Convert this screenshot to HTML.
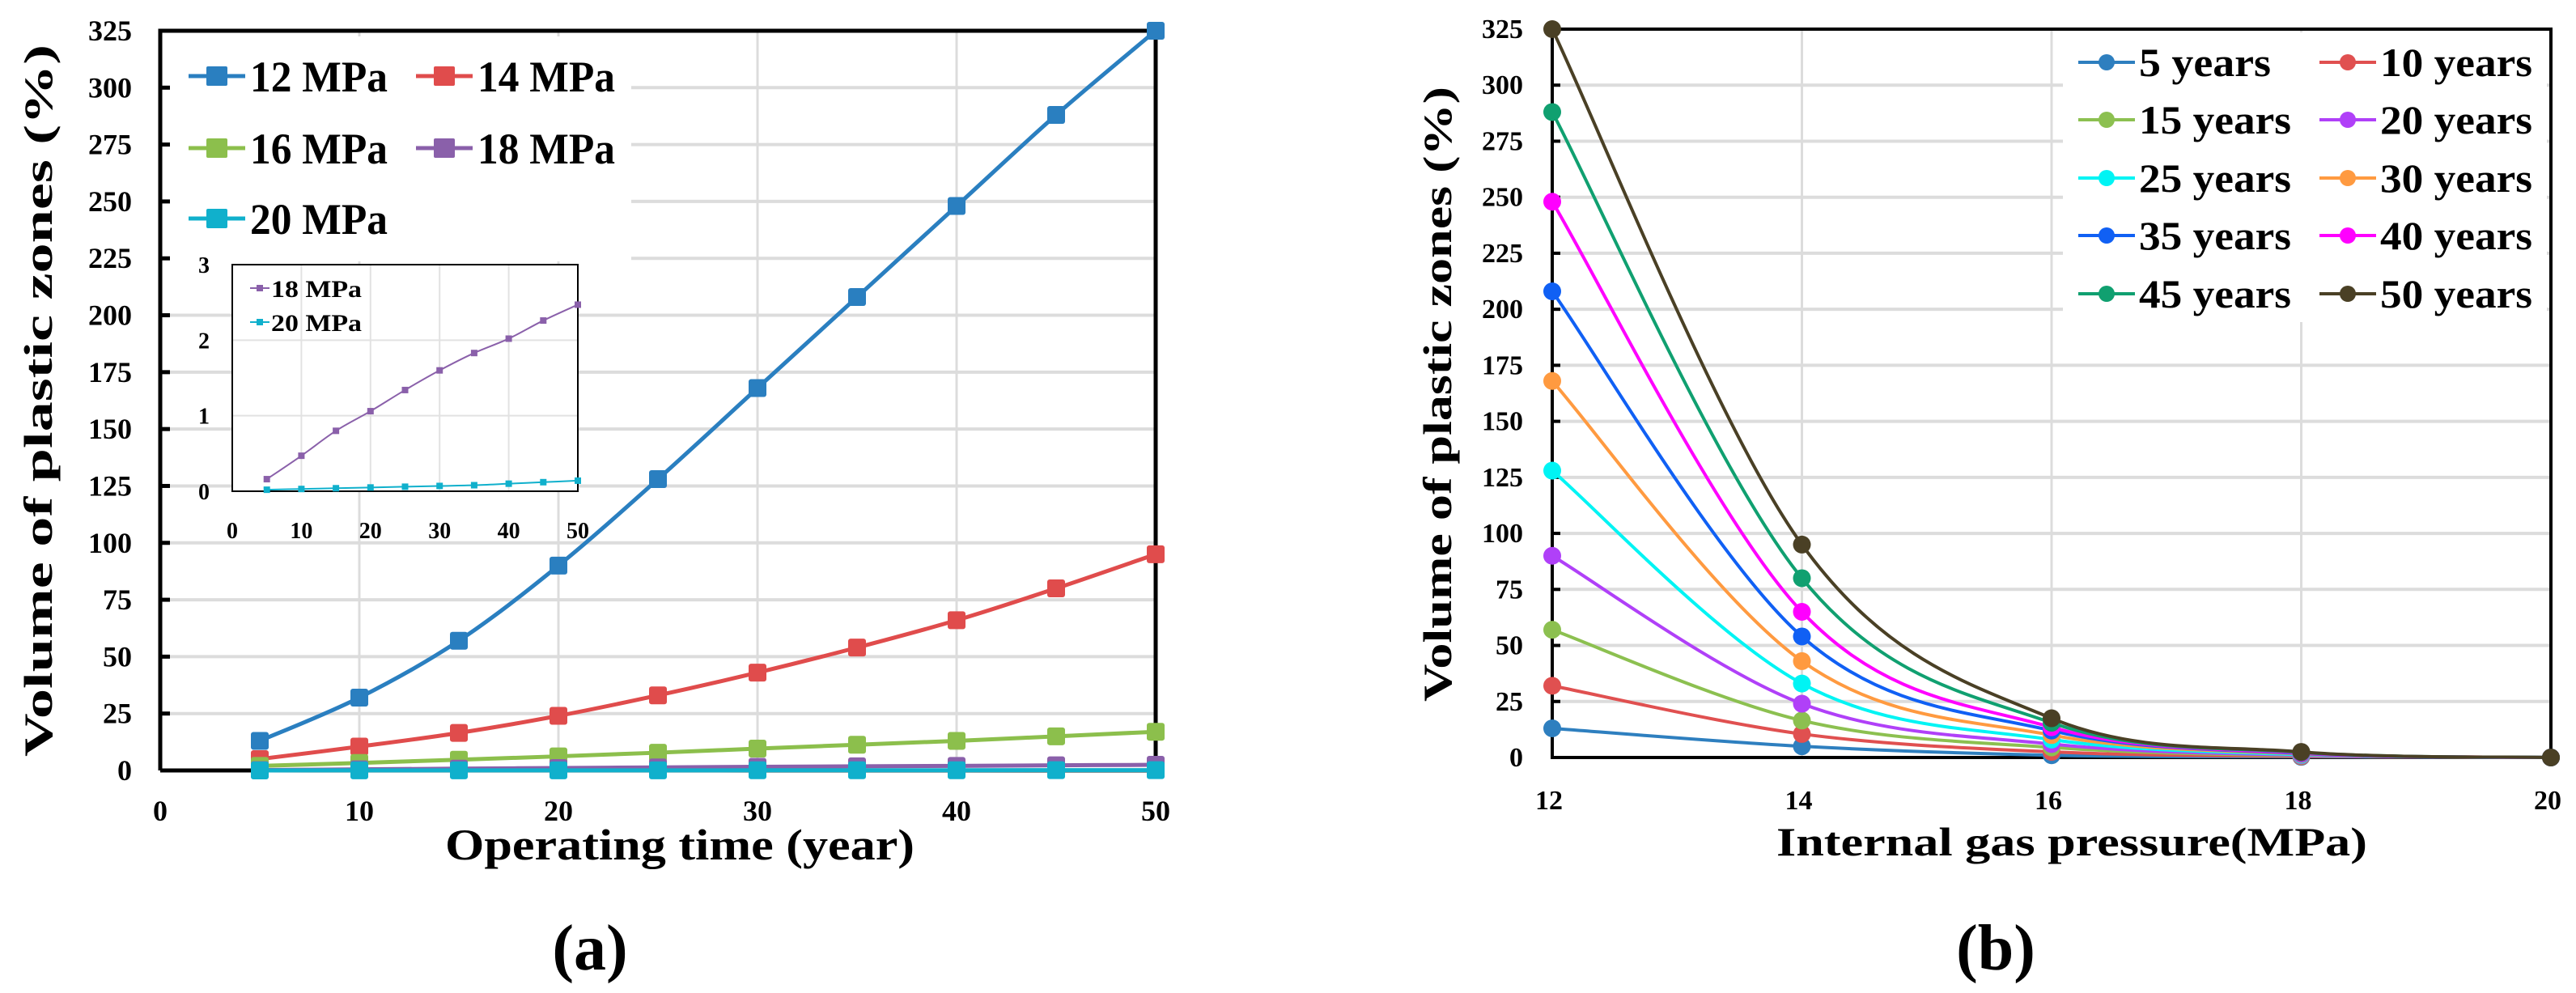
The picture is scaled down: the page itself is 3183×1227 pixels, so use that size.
<!DOCTYPE html>
<html><head><meta charset="utf-8"><style>
html,body{margin:0;padding:0;background:#fff;}
svg{display:block;font-family:"Liberation Serif",serif;font-weight:bold;}
</style></head><body>
<svg id="fig" width="3183" height="1227" viewBox="0 0 3183 1227" xmlns="http://www.w3.org/2000/svg">
<g id="chartA"></g>
<g id="chartB"></g>
</svg>
<script>
// ---------- Chart (a) data ----------
const aYears = [5,10,15,20,25,30,35,40,45,50];
const aNames = ["12 MPa","14 MPa","16 MPa","18 MPa","20 MPa"];
const aColors = ["#2a7fc0","#e04c4c","#8cbf4c","#8a60aa","#10b0cc"];
const a12 = [13,32,57,90,128,168,208,248,288,325];
const a14 = [5,10.5,16.5,24,33,43,54,66,80,95];
const a16 = [2,3.3,4.7,6.2,7.8,9.6,11.3,13,15,17];
const a18 = [0.16,0.47,0.8,1.06,1.34,1.6,1.83,2.02,2.26,2.47];
const a20 = [0.02,0.03,0.04,0.05,0.06,0.07,0.08,0.1,0.12,0.14];
const aYTicks = [0,25,50,75,100,125,150,175,200,225,250,275,300,325];
const aXTicks = [0,10,20,30,40,50];
const insetYTicks = [0,1,2,3];
// ---------- Chart (b) data ----------
const bPressures = [12,14,16,18,20];
const bNames = ["5 years","10 years","15 years","20 years","25 years","30 years","35 years","40 years","45 years","50 years"];
const bColors = ["#2e7fbf","#e05050","#8cc050","#b040f8","#00f4f4","#ff9a40","#1060f4","#ff00ff","#10a070","#4a4025"];
const b5 = [13,5,1,0.3,0];
const b10 = [32,10.5,2.5,0.5,0];
const b15 = [57,16.5,4.5,0.8,0];
const b20 = [90,24,6,1,0];
const b25 = [128,33,8,1.3,0];
const b30 = [168,43,10,1.6,0];
const b35 = [208,54,12,1.8,0];
const b40 = [248,65,13.5,2,0];
const b45 = [288,80,15.5,2.3,0];
const b50 = [325,95,17.5,2.5,0];
const bYTicks = [0,25,50,75,100,125,150,175,200,225,250,275,300,325];
const bXTicks = [12,14,16,18,20];

const NS="http://www.w3.org/2000/svg";
function mk(parent,tag,attrs,txt){const e=document.createElementNS(NS,tag);for(const k in attrs)e.setAttribute(k,attrs[k]);if(txt!==undefined)e.textContent=txt;parent.appendChild(e);return e;}
function smooth(pts){
  let d="M"+pts[0][0]+","+pts[0][1];
  for(let i=0;i<pts.length-1;i++){const p0=pts[i-1]||pts[i],p1=pts[i],p2=pts[i+1],p3=pts[i+2]||p2;
    const c1=[p1[0]+(p2[0]-p0[0])/6,p1[1]+(p2[1]-p0[1])/6],c2=[p2[0]-(p3[0]-p1[0])/6,p2[1]-(p3[1]-p1[1])/6];
    d+=" C"+c1[0]+","+c1[1]+" "+c2[0]+","+c2[1]+" "+p2[0]+","+p2[1];}
  return d;}

// ===== Chart A =====
(function(){
const g=document.getElementById('chartA');
const X0=198,X1=1428,Y0=952,Y1=38;
const xs=v=>X0+(v-0)/50*(X1-X0), ys=v=>Y0-(v/325)*(Y0-Y1);
aYTicks.forEach(t=>{ if(t>0&&t<325){const l=mk(g,'line',{x1:X0,x2:X1,y1:ys(t),y2:ys(t),stroke:'#dcdcdc','stroke-width':4});

}});
aXTicks.forEach(t=>{ if(t>0&&t<50){const l=mk(g,'line',{x1:xs(t),x2:xs(t),y1:Y1,y2:Y0,stroke:'#dcdcdc','stroke-width':3});

}});
const lb=mk(g,'rect',{x:210,y:45,width:570,height:278,fill:'#fff'});


const fr=mk(g,'path',{d:`M${X0},${Y0}L${X0},${Y1}L${X1},${Y1}L${X1},${Y0}L${X0},${Y0}`,fill:'none',stroke:'#000','stroke-width':5});


aYTicks.forEach(t=>{const tk=mk(g,'line',{x1:X0,x2:X0+12,y1:ys(t),y2:ys(t),stroke:'#000','stroke-width':5});


const tx=mk(g,'text',{x:163,y:ys(t)+12,'text-anchor':'end','font-size':36},String(t));

});
aXTicks.forEach(t=>{const tx=mk(g,'text',{x:xs(t),y:1014,'text-anchor':'middle','font-size':36},String(t));

});
const yt=mk(g,'text',{x:0,y:0,'text-anchor':'middle','font-size':50,transform:'translate(64,495) rotate(-90)',textLength:880,lengthAdjust:'spacingAndGlyphs'},'Volume of plastic zones (%)');


const xt=mk(g,'text',{x:840,y:1062,'text-anchor':'middle','font-size':54,textLength:580,lengthAdjust:'spacingAndGlyphs'},'Operating time (year)');


const cap=mk(g,'text',{x:729,y:1198,'text-anchor':'middle','font-size':80},'(a)');


const series=[a12,a14,a16,a18,a20];
series.forEach((vals,si)=>{
  const pts=vals.map((v,i)=>[xs(aYears[i]),ys(v)]);
  const p=mk(g,'path',{d:smooth(pts),fill:'none',stroke:aColors[si],'stroke-width':5});
  
  
  pts.forEach(pt=>{const r=mk(g,'rect',{x:pt[0]-11,y:pt[1]-11,width:22,height:22,rx:3,fill:aColors[si]});
  
  });
});
const lx=[233,514],ly=[94,183,270];
aNames.forEach((n,i)=>{const c=i%2,r=Math.floor(i/2);const x=lx[c],y=ly[r];
  const lg=mk(g,'g',{});
  
  
  mk(lg,'line',{x1:x,x2:x+70,y1:y,y2:y,stroke:aColors[i],'stroke-width':5});
  mk(lg,'rect',{x:x+22,y:y-12,width:26,height:24,rx:2,fill:aColors[i]});
  mk(lg,'text',{x:x+76,y:y+19,'font-size':54,textLength:170,lengthAdjust:'spacingAndGlyphs'},n);
});
const IX0=287,IX1=714,IY0=607,IY1=327;
const ixs=v=>IX0+v/50*(IX1-IX0), iys=v=>IY0-v/3*(IY0-IY1);
const ig=mk(g,'g',{});


mk(ig,'rect',{x:IX0,y:IY1,width:IX1-IX0,height:IY0-IY1,fill:'#fff'});
[1,2].forEach(t=>mk(ig,'line',{x1:IX0,x2:IX1,y1:iys(t),y2:iys(t),stroke:'#e2e2e2','stroke-width':2}));
[10,20,30,40].forEach(t=>mk(ig,'line',{x1:ixs(t),x2:ixs(t),y1:IY1,y2:IY0,stroke:'#e2e2e2','stroke-width':2}));
mk(ig,'rect',{x:IX0,y:IY1,width:IX1-IX0,height:IY0-IY1,fill:'none',stroke:'#000','stroke-width':2});
insetYTicks.forEach(t=>{const tx=mk(ig,'text',{x:252,y:iys(t)+10,'text-anchor':'middle','font-size':28},String(t));

});
aXTicks.forEach(t=>{const tx=mk(ig,'text',{x:ixs(t),y:665,'text-anchor':'middle','font-size':28},String(t));

});
[[a18,3],[a20,4]].forEach(([vals,si])=>{
  const pts=vals.map((v,i)=>[ixs(aYears[i]),iys(v)]);
  const p=mk(ig,'path',{d:smooth(pts),fill:'none',stroke:aColors[si],'stroke-width':2});
  
  
  pts.forEach(pt=>mk(ig,'rect',{x:pt[0]-4,y:pt[1]-4,width:8,height:8,fill:aColors[si]}));
});
[[3,356,"18 MPa"],[4,398,"20 MPa"]].forEach(([si,y,n])=>{
  const lg=mk(ig,'g',{});
  
  
  mk(lg,'line',{x1:309,x2:333,y1:y,y2:y,stroke:aColors[si],'stroke-width':2});
  mk(lg,'rect',{x:317,y:y-4,width:8,height:8,fill:aColors[si]});
  mk(lg,'text',{x:335,y:y+11,'font-size':30,textLength:112,lengthAdjust:'spacingAndGlyphs'},n);
});
})();

// ===== Chart B =====
(function(){
const g=document.getElementById('chartB');
const X0=1918,X1=3152,Y0=936,Y1=36;
const xs=v=>X0+(v-12)/8*(X1-X0), ys=v=>Y0-(v/325)*(Y0-Y1);
bYTicks.forEach(t=>{ if(t>0&&t<325){const l=mk(g,'line',{x1:X0,x2:X1,y1:ys(t),y2:ys(t),stroke:'#dcdcdc','stroke-width':4});

}});
bXTicks.forEach(t=>{ if(t>12&&t<20){const l=mk(g,'line',{x1:xs(t),x2:xs(t),y1:Y1,y2:Y0,stroke:'#dcdcdc','stroke-width':3});

}});
const lb=mk(g,'rect',{x:2549,y:40,width:598,height:358,fill:'#fff'});


const fr=mk(g,'rect',{x:X0,y:Y1,width:X1-X0,height:Y0-Y1,fill:'none',stroke:'#000','stroke-width':4});


bYTicks.forEach(t=>{const tk=mk(g,'line',{x1:X0,x2:X0+10,y1:ys(t),y2:ys(t),stroke:'#000','stroke-width':4});


const tx=mk(g,'text',{x:1882,y:ys(t)+11,'text-anchor':'end','font-size':34,textLength:String(t).length*17,lengthAdjust:'spacingAndGlyphs'},String(t));

});
bXTicks.forEach(t=>{const tx=mk(g,'text',{x:xs(t)-4,y:1000,'text-anchor':'middle','font-size':34},String(t));

});
const yt=mk(g,'text',{x:0,y:0,'text-anchor':'middle','font-size':50,transform:'translate(1793,487) rotate(-90)',textLength:760,lengthAdjust:'spacingAndGlyphs'},'Volume of plastic zones (%)');


const xt=mk(g,'text',{x:2560,y:1057,'text-anchor':'middle','font-size':50,textLength:730,lengthAdjust:'spacingAndGlyphs'},'Internal gas pressure(MPa)');


const cap=mk(g,'text',{x:2466,y:1198,'text-anchor':'middle','font-size':80},'(b)');


const series=[b5,b10,b15,b20,b25,b30,b35,b40,b45,b50];
series.forEach((vals,si)=>{
  const pts=vals.map((v,i)=>[xs(bPressures[i]),ys(v)]);
  const p=mk(g,'path',{d:smooth(pts),fill:'none',stroke:bColors[si],'stroke-width':4});
  
  
  pts.forEach(pt=>{const c=mk(g,'circle',{cx:pt[0],cy:pt[1],r:11,fill:bColors[si]});
  
  });
});
const lx=[2568,2866],ly=[77,148,220,291,363];
bNames.forEach((n,i)=>{const c=i%2,r=Math.floor(i/2);const x=lx[c],y=ly[r];
  const lg=mk(g,'g',{});
  
  
  mk(lg,'line',{x1:x,x2:x+70,y1:y,y2:y,stroke:bColors[i],'stroke-width':4});
  mk(lg,'circle',{cx:x+35,cy:y,r:10,fill:bColors[i]});
  mk(lg,'text',{x:x+75,y:y+17,'font-size':50,textLength:n.length>7?188:163,lengthAdjust:'spacingAndGlyphs'},n);
});
})();
</script>
</body></html>
